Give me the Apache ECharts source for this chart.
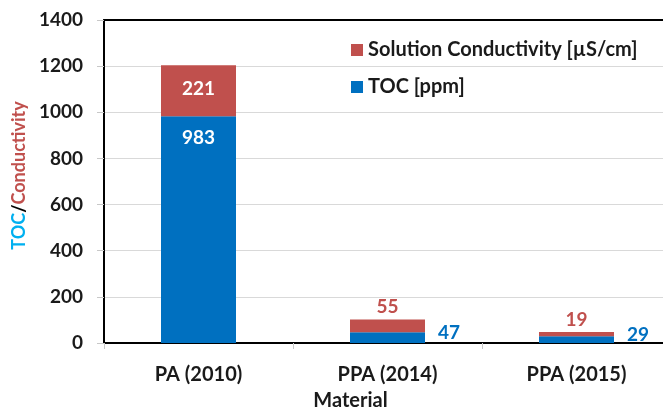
<!DOCTYPE html>
<html>
<head>
<meta charset="utf-8">
<script src="https://cdn.jsdelivr.net/npm/echarts@6/dist/echarts.min.js"></script>
<style>
  html, body { margin: 0; padding: 0; background: #fff; }
  #main { width: 663px; height: 409px; }
</style>
</head>
<body>
<div id="main"></div>
<script>
// data
var materials = ['PA (2010)', 'PPA (2014)', 'PPA (2015)'];
var tocValues = [983, 47, 29];
var conductivityValues = [221, 55, 19];
var yTicks = [0, 200, 400, 600, 800, 1000, 1200, 1400];

var FONT = 'Lato';
var BLUE = '#0070C0';
var RED = '#C0504D';
var INK = '#1a1a1a';

var chart = echarts.init(document.getElementById('main'), null, { renderer: 'canvas' });

// first bar gets white labels inside, the small ones outside
var tocData = tocValues.map(function (v, i) {
    if (i === 0) {
        return { value: v, label: { position: 'insideTop', color: '#fff', distance: 12 } };
    }
    return { value: v, label: { position: 'right', color: BLUE, distance: 13, offset: [0, -5] } };
});
var condData = conductivityValues.map(function (v, i) {
    if (i === 0) {
        return { value: v, label: { position: 'inside', color: '#fff', offset: [0, -2] } };
    }
    return { value: v, label: { position: 'top', color: RED, distance: 3 } };
});

var option = {
    backgroundColor: '#fff',
    textStyle: { fontFamily: FONT },
    grid: { left: 104, right: -8, top: 20, bottom: 66, containLabel: false, outerBoundsMode: 'none' },
    legend: {
        orient: 'vertical',
        left: 346,
        top: 35,
        itemGap: 17,
        itemWidth: 12,
        itemHeight: 12,
        icon: 'rect',
        data: ['Solution Conductivity [µS/cm]', 'TOC [ppm]'],
        textStyle: { fontFamily: FONT, fontWeight: 'bold', fontSize: 20, color: INK }
    },
    xAxis: [{
        type: 'category',
        data: materials,
        name: 'Material',
        nameLocation: 'middle',
        nameGap: 48,
        nameTextStyle: { fontFamily: FONT, fontWeight: 'bold', fontSize: 20, color: INK, padding: [0, 74, 0, 0] },
        axisLine: { lineStyle: { color: '#000', width: 2 } },
        axisTick: { show: true, length: 6, lineStyle: { color: '#c8c8c8' } },
        axisLabel: { fontFamily: FONT, fontWeight: 'bold', fontSize: 20, color: INK, margin: 22 }
    }, {
        type: 'category',
        data: materials,
        position: 'top',
        axisLine: { lineStyle: { color: '#000', width: 2 } },
        axisTick: { show: false },
        axisLabel: { show: false }
    }],
    yAxis: {
        type: 'value',
        min: 0,
        max: yTicks[yTicks.length - 1],
        interval: 200,
        name: '{t|TOC}{s|/}{c|Conductivity}',
        nameLocation: 'middle',
        nameGap: 74,
        nameRotate: 90,
        nameTextStyle: {
            padding: [0, 0, 0, 12],
            rich: {
                t: { color: '#00B0F0', fontFamily: FONT, fontWeight: 'bold', fontSize: 18 },
                s: { color: '#000', fontFamily: FONT, fontWeight: 'bold', fontSize: 18 },
                c: { color: RED, fontFamily: FONT, fontWeight: 'bold', fontSize: 18 }
            }
        },
        axisLine: { show: true, lineStyle: { color: '#000', width: 2 } },
        axisTick: { show: true, length: 7, lineStyle: { color: '#c8c8c8' } },
        axisLabel: {
            fontFamily: FONT, fontWeight: 'bold', fontSize: 19, color: INK, margin: 21,
            formatter: function (v) { return String(v); }
        },
        splitLine: { lineStyle: { color: '#d9d9d9', width: 1 } }
    },
    series: [{
        name: 'TOC [ppm]',
        type: 'bar',
        stack: 'total',
        barWidth: 75,
        itemStyle: { color: BLUE },
        label: { show: true, fontFamily: FONT, fontWeight: 'bold', fontSize: 19 },
        data: tocData
    }, {
        name: 'Solution Conductivity [µS/cm]',
        type: 'bar',
        stack: 'total',
        barWidth: 75,
        itemStyle: { color: RED },
        label: { show: true, fontFamily: FONT, fontWeight: 'bold', fontSize: 19 },
        data: condData
    }]
};

chart.setOption(option);
</script>
</body>
</html>
